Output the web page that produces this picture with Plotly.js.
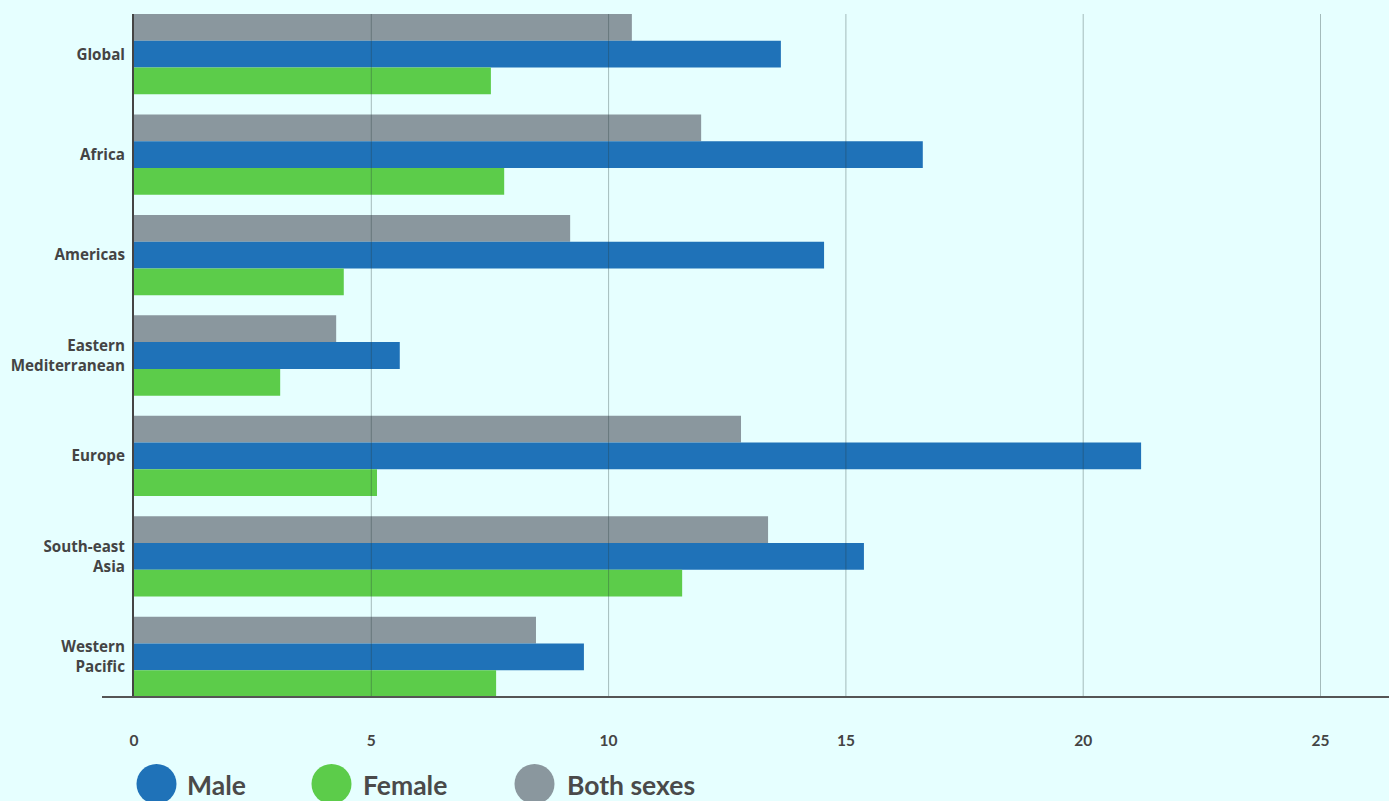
<!DOCTYPE html>
<html><head><meta charset="utf-8">
<script src="https://cdn.plot.ly/plotly-3.0.1.min.js"></script>
<style>html,body{margin:0;padding:0;background:#E6FFFF;}#chart{width:1389px;height:801px;}</style>
</head><body><div id="chart"></div>
<script>
const regions = ["Global","Africa","Americas","Eastern<br>Mediterranean","Europe","South-east<br>Asia","Western<br>Pacific"];
const bothSexes = [10.49, 11.95, 9.19, 4.26, 12.79, 13.36, 8.47];
const male = [13.63, 16.62, 14.54, 5.60, 21.22, 15.38, 9.48];
const female = [7.52, 7.80, 4.42, 3.08, 5.12, 11.55, 7.63];
const seriesNames = ["Male","Female","Both sexes"];
const seriesColors = ["#1F72B8","#5CCC4A","#8A979E"];
const xTicks = [0,5,10,15,20,25];

const W = 1389, H = 801, ML = 134, MR = 0, MT = 14, MB = 104;
const PW = W-ML-MR, PH = H-MT-MB;
const px = v => (v-ML)/PW;
const py = v => (H-MB-v)/PH;

const traces = [
  {type:'bar', orientation:'h', name:seriesNames[2], y:regions, x:bothSexes, marker:{color:seriesColors[2]}, showlegend:false},
  {type:'bar', orientation:'h', name:seriesNames[0], y:regions, x:male, marker:{color:seriesColors[0]}, showlegend:false},
  {type:'bar', orientation:'h', name:seriesNames[1], y:regions, x:female, marker:{color:seriesColors[1]}, showlegend:false}
];

const shapes = [];
xTicks.filter(t=>t>0).forEach(t=>shapes.push({type:'line', xref:'x', yref:'paper', x0:t, x1:t, y0:0, y1:1, layer:'above', line:{color:'rgba(40,60,60,0.35)', width:1}}));
shapes.push({type:'line', xref:'paper', yref:'paper', x0:px(102), x1:1, y0:0, y1:0, layer:'above', line:{color:'#555', width:2}});
const annotations = [];
const legX = [156.5, 331.5, 534.5];
const legTX = [185, 361, 565];
seriesNames.forEach((n,i)=>{
  shapes.push({type:'circle', xref:'paper', yref:'paper', xsizemode:'pixel', ysizemode:'pixel', xanchor:px(legX[i]), yanchor:py(784), x0:-20, x1:20, y0:-20, y1:20, fillcolor:seriesColors[i], line:{width:0}});
  annotations.push({xref:'paper', yref:'paper', x:px(legTX[i]), y:py(785), xanchor:'left', yanchor:'middle', showarrow:false, text:n, font:{family:'Lato, sans-serif', size:26.5, color:'#4a4a4a', weight:700}});
});

const layout = {
  width:W, height:H,
  margin:{l:ML, r:MR, t:MT, b:MB, pad:0},
  paper_bgcolor:'#E6FFFF', plot_bgcolor:'#E6FFFF',
  barmode:'group', bargap:0.2, bargroupgap:0,
  font:{family:'Lato, sans-serif', color:'#444'},
  xaxis:{range:[0, PW/47.46], tickvals:xTicks, ticktext:xTicks.map(String), showgrid:false, zeroline:false, showline:false, ticks:'', ticklabelstandoff:32, tickfont:{family:'Lato, sans-serif', size:15.5, color:'#444', weight:700}, fixedrange:true},
  yaxis:{type:'category', range:[6.4,-0.4], showgrid:false, zeroline:false, showline:true, linecolor:'#444', linewidth:2, ticks:'', ticklabelstandoff:4, tickfont:{family:'Open Sans, sans-serif', size:15.2, color:'#444', weight:700}},
  shapes:shapes, annotations:annotations, showlegend:false
};
Plotly.newPlot('chart', traces, layout, {displayModeBar:false, staticPlot:true});
</script></body></html>
